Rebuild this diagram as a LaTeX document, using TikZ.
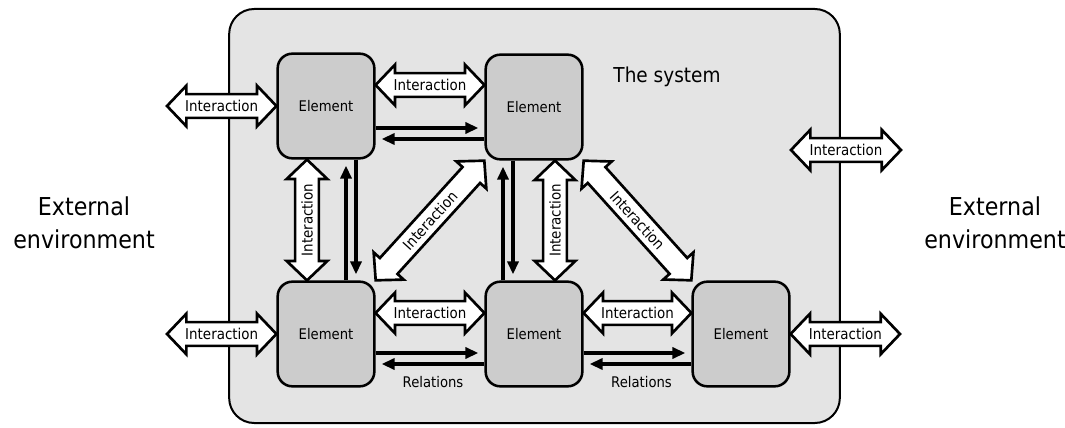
\documentclass[tikz,border=0pt]{standalone}
\usepackage{fontspec}
\setmainfont{DejaVu Sans}[FakeStretch=0.9]
\usetikzlibrary{calc,arrows.meta}
\definecolor{sysfill}{HTML}{E4E4E4}
\definecolor{elfill}{HTML}{CCCCCC}
\tikzset{
  sysbox/.style={draw, fill=sysfill, line width=1.5pt, rounded corners=18.75pt,
    minimum width=458pt, minimum height=310.5pt},
  element/.style={draw, fill=elfill, line width=1.9pt, rounded corners=11pt,
    minimum width=72.5pt, minimum height=78.5pt, font=\fontsize{11}{13}\selectfont},
  fatline/.style={draw, fill=white, line width=2pt, line join=miter},
  fattext/.style={font=\fontsize{11.2}{13}\selectfont, inner sep=0pt, transform shape},
  rel/.style={line width=2.5pt, -{Triangle[length=9.75pt,width=8.25pt]}, shorten >=4.5pt},
  envtext/.style={align=center, font=\fontsize{18.5}{24.75}\selectfont},
  reltext/.style={font=\fontsize{11}{13}\selectfont},
  titletext/.style={font=\fontsize{15.4}{18}\selectfont},
}
% Fat double-headed arrow between two points, with its label along the shaft.
% #1 name, #2 start, #3 end, #4 label
\newcommand\fatlink[4]{%
  \coordinate (#1-a) at #2;
  \coordinate (#1-b) at #3;
  \pgfpointdiff{\pgfpointanchor{#1-a}{center}}{\pgfpointanchor{#1-b}{center}}%
  \pgfgetlastxy\fatdx\fatdy
  \pgfmathsetmacro\fatang{atan2(\fatdy,\fatdx)}%
  \pgfmathsetmacro\fata{0.5*veclen(\fatdx,\fatdy)}%
  \pgfmathsetmacro\fatb{\fata-14.5}%
  \begin{scope}[shift={($(#1-a)!0.5!(#1-b)$)}, rotate=\fatang]
    \draw[fatline] (\fata pt,0pt) -- (\fatb pt,15.2pt) -- (\fatb pt,8.9pt)
      -- (-\fatb pt,8.9pt) -- (-\fatb pt,15.2pt) -- (-\fata pt,0pt)
      -- (-\fatb pt,-15.2pt) -- (-\fatb pt,-8.9pt) -- (\fatb pt,-8.9pt)
      -- (\fatb pt,-15.2pt) -- cycle;
    \node[fattext] (#1) at (0pt,0pt) {#4};
  \end{scope}}
\begin{document}
\begin{tikzpicture}[x=0.75pt, y=-0.75pt]
  \useasboundingbox (0,0) rectangle (1065,428);

  % the system boundary
  \node[sysbox] (sys) at (534.5,216) {};
  \node[titletext] (title) at (667,77) {The system};

  % surroundings
  \node[envtext] (envL) at (84,223) {External\\environment};
  \node[envtext] (envR) at (995,223) {External\\environment};

  % elements
  \node[element] (TL) at (326,106) {Element};
  \node[element] (TM) at (534,107) {Element};
  \node[element] (BL) at (326,334) {Element};
  \node[element] (BM) at (534,334) {Element};
  \node[element] (BR) at (741,334) {Element};

  % free ends of the outer interactions
  \coordinate (lt) at (167,106);
  \coordinate (lb) at (167,334);
  \coordinate (rb) at (900,334);
  \coordinate (rt1) at (791,150);
  \coordinate (rt2) at (901,150);

  % interactions
  \fatlink{ia1}{(lt)}{(TL.west)}{Interaction}
  \fatlink{ia2}{($(TL.east)+(0,-21)$)}{($(TM.west)+(0,-22)$)}{Interaction}
  \fatlink{ia3}{($(BL.north)+(-19,0)$)}{($(TL.south)+(-19,0)$)}{Interaction}
  \fatlink{ia4}{($(BM.north)+(21,0)$)}{($(TM.south)+(21,0)$)}{Interaction}
  \fatlink{ia5}{(BL.north east)}{(TM.south west)}{Interaction}
  \fatlink{ia6}{(TM.south east)}{(BR.north west)}{Interaction}
  \fatlink{ia7}{($(BL.east)+(0,-21)$)}{($(BM.west)+(0,-21)$)}{Interaction}
  \fatlink{ia8}{($(BM.east)+(0,-21)$)}{($(BR.west)+(0,-21)$)}{Interaction}
  \fatlink{ia9}{(lb)}{(BL.west)}{Interaction}
  \fatlink{ia10}{(BR.east)}{(rb)}{Interaction}
  \fatlink{ia11}{(rt1)}{(rt2)}{Interaction}

  % relations
  \draw[rel] ($(TL.east)+(0,22)$) -- ($(TM.west)+(0,21)$);
  \draw[rel] ($(TM.west)+(0,32)$) -- ($(TL.east)+(0,33)$);
  \draw[rel] ($(BL.east)+(0,19)$) -- ($(BM.west)+(0,19)$);
  \draw[rel] ($(BM.west)+(0,30)$) -- ($(BL.east)+(0,30)$);
  \draw[rel] ($(BM.east)+(0,19)$) -- ($(BR.west)+(0,19)$);
  \draw[rel] ($(BR.west)+(0,30)$) -- ($(BM.east)+(0,30)$);
  \draw[rel] ($(BL.north)+(20,0)$) -- ($(TL.south)+(20,0)$);
  \draw[rel] ($(TL.south)+(30,0)$) -- ($(BL.north)+(30,0)$);
  \draw[rel] ($(BM.north)+(-31,0)$) -- ($(TM.south)+(-31,0)$);
  \draw[rel] ($(TM.south)+(-21,0)$) -- ($(BM.north)+(-21,0)$);

  \node[reltext] (rl1) at ($(BL.east)!0.5!(BM.west)+(3,48)$) {Relations};
  \node[reltext] (rl2) at ($(BM.east)!0.5!(BR.west)+(4,48)$) {Relations};
\end{tikzpicture}
\end{document}
